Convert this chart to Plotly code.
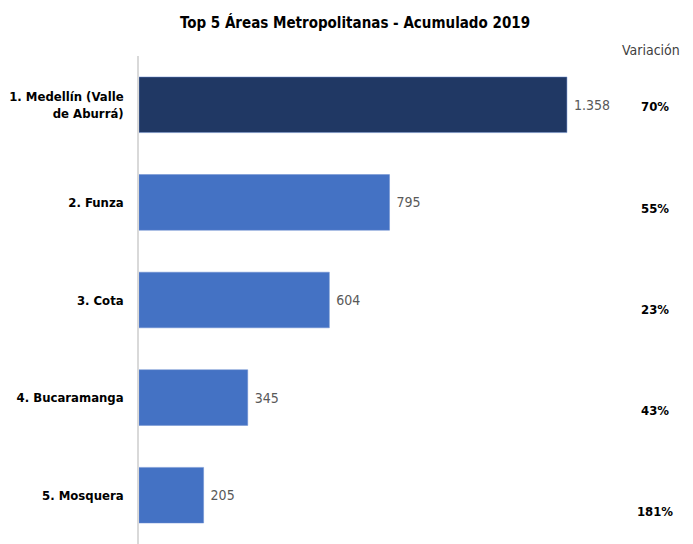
import plotly.graph_objects as go

categories = ["1. Medellín (Valle<br>de Aburrá)", "2. Funza", "3. Cota", "4. Bucaramanga", "5. Mosquera"]
values = [1358, 795, 604, 345, 205]
value_labels = ["1.358", "795", "604", "345", "205"]
variation = ["70%", "55%", "23%", "43%", "181%"]
bar_colors = ["#203864", "#4472C4", "#4472C4", "#4472C4", "#4472C4"]

FONT = "DejaVu Sans Condensed, sans-serif"

fig = go.Figure()
fig.add_trace(go.Bar(
    y=categories, x=values, orientation="h",
    marker=dict(color=bar_colors, line=dict(color="#6d8fd0", width=0.5)),
    text=value_labels, texttemplate=" %{text}", textposition="outside", cliponaxis=False,
    textfont=dict(family=FONT, size=14, color="#595959"),
    hoverinfo="skip", width=0.57,
))
fig.add_trace(go.Scatter(
    x=[516] * len(variation), y=categories, text=["<b>%s</b>" % v for v in variation],
    mode="text", textposition="middle center",
    textfont=dict(family=FONT, size=13, color="#000000"),
    xaxis="x2", yaxis="y2", hoverinfo="skip", cliponaxis=False,
))

fig.update_layout(
    width=685, height=536,
    margin=dict(l=131, r=0, t=48, b=0, autoexpand=False),
    paper_bgcolor="white", plot_bgcolor="white",
    showlegend=False,
    title=dict(text="<b>Top 5 Áreas Metropolitanas - Acumulado 2019</b>",
               x=0.5066, xanchor="center", y=0.972, yanchor="middle",
               font=dict(family=FONT, size=15, color="#000000")),
    xaxis=dict(range=[0, 1758], visible=False, fixedrange=True, automargin=False),
    yaxis=dict(categoryorder="array", categoryarray=categories, range=[4.5, -0.5],
               showline=True, linecolor="#D9D9D9", linewidth=1.5, automargin=False,
               showgrid=False, ticks="", ticklen=0, ticklabelstandoff=11,
               tickfont=dict(family=FONT, size=13, color="#000000", weight="bold")),
    xaxis2=dict(range=[0, 554], visible=False, overlaying="x", anchor="y2", automargin=False),
    yaxis2=dict(categoryorder="array", categoryarray=categories, automargin=False,
                range=[4.306, -0.514], visible=False, overlaying="y", anchor="x2"),
    annotations=[dict(text="Variación", xref="paper", yref="paper", x=0.924, y=1.0123,
                      xanchor="center", yanchor="middle", showarrow=False,
                      font=dict(family=FONT, size=14, color="#404040"))],
)

fig.write_html("out.html")
